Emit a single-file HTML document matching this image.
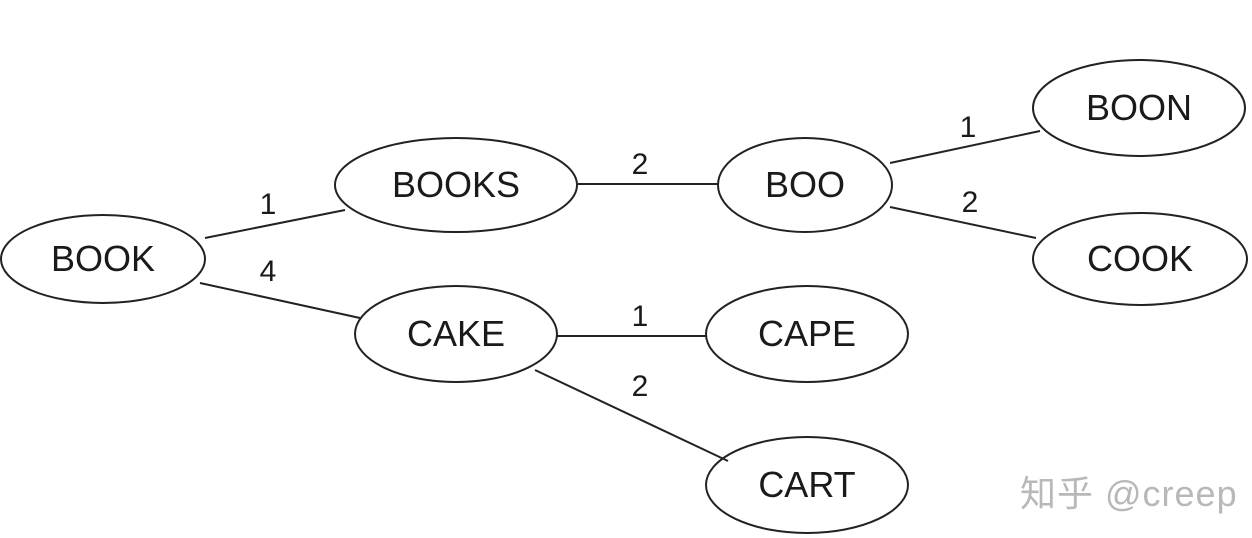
<!DOCTYPE html>
<html><head><meta charset="utf-8"><style>
html,body{margin:0;padding:0;background:#fff;width:1252px;height:538px;overflow:hidden}
svg{display:block}
text{font-family:"Liberation Sans",sans-serif;fill:#1a1a1a}
</style></head><body>
<svg width="1252" height="538" viewBox="0 0 1252 538">
<g stroke="#222" stroke-width="2" fill="none">
<line x1="205" y1="238" x2="345" y2="210"/>
<line x1="200" y1="283" x2="360" y2="318"/>
<line x1="578" y1="184" x2="718" y2="184"/>
<line x1="890" y1="163" x2="1040" y2="131"/>
<line x1="890" y1="207" x2="1036" y2="238"/>
<line x1="557" y1="336" x2="706" y2="336"/>
<line x1="535" y1="370" x2="728" y2="461"/>
<ellipse cx="103" cy="259" rx="102" ry="44"/>
<ellipse cx="456" cy="185" rx="121" ry="47"/>
<ellipse cx="805" cy="185" rx="87" ry="47"/>
<ellipse cx="1139" cy="108" rx="106" ry="48"/>
<ellipse cx="1140" cy="259" rx="107" ry="46"/>
<ellipse cx="456" cy="334" rx="101" ry="48"/>
<ellipse cx="807" cy="334" rx="101" ry="48"/>
<ellipse cx="807" cy="485" rx="101" ry="48"/>
</g>
<g font-size="36" text-anchor="middle">
<text x="103" y="271">BOOK</text>
<text x="456" y="197">BOOKS</text>
<text x="805" y="197">BOO</text>
<text x="1139" y="120">BOON</text>
<text x="1140" y="271">COOK</text>
<text x="456" y="346">CAKE</text>
<text x="807" y="346">CAPE</text>
<text x="807" y="497">CART</text>
</g>
<g font-size="30" text-anchor="middle">
<text x="268" y="214">1</text>
<text x="268" y="281">4</text>
<text x="640" y="174">2</text>
<text x="968" y="137">1</text>
<text x="970" y="212">2</text>
<text x="640" y="326">1</text>
<text x="640" y="396">2</text>
</g>
<text x="1020" y="506" font-size="36" letter-spacing="1" style="fill:#b8b8b8;font-family:'Liberation Sans','Noto Sans CJK SC',sans-serif">知乎 @creep</text>
</svg>
</body></html>
